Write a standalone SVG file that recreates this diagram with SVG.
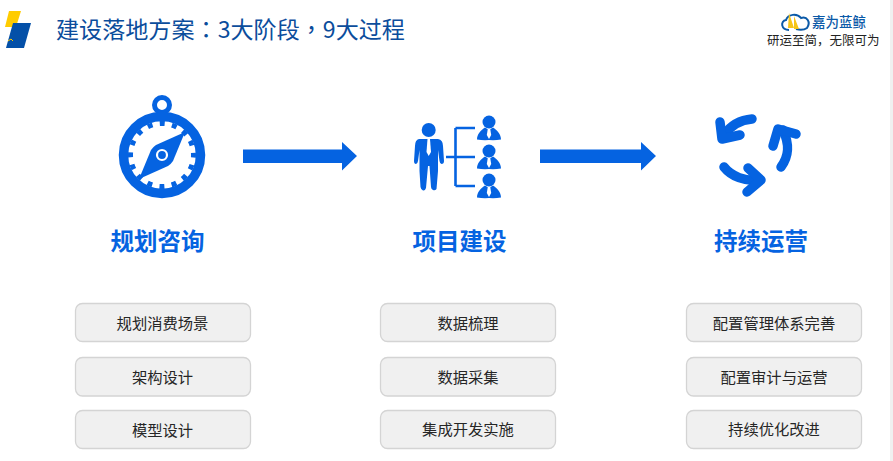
<svg xmlns="http://www.w3.org/2000/svg" width="893" height="461" viewBox="0 0 893 461">
<style>
text{font-family:"Liberation Sans","Noto Sans CJK SC",sans-serif}
.box rect{fill:#f0f0f0;stroke:#d4d4d4;stroke-width:1.3}
.box text{font-size:15.300px;fill:#262626;text-anchor:middle;font-family:"Noto Sans CJK SC",sans-serif}
.head{font-size:23.500px;font-weight:700;fill:#0563e1;text-anchor:middle;font-family:"Noto Sans CJK SC",sans-serif}
.ico{fill:#0563e1}
.ln{fill:none;stroke:#0563e1}
.arw{fill:none;stroke:#0563e1;stroke-width:9.500;stroke-linecap:round;stroke-linejoin:round}
.tc{font-family:"Noto Sans CJK TC",sans-serif}
</style>
<defs>
<g id="sub">
<circle cx="0" cy="0" r="6.500" class="ico"/>
<path d="M-12 17.500C-12 12-8 8-4 5.500L0 8 4 5.500C8 8 12 12 12 17.500Q6 18.500 0 18 -6 18.500-12 17.500Z" class="ico"/>
<path d="M-1.200 7H1.200L2.200 13 0 17-2.200 13Z" fill="#fff"/>
</g>
</defs>
<rect width="893" height="461" fill="#fff"/>
<rect x="890" y="0" width="3" height="461" fill="#f0f0f0"/>
<g id="logo-left">
<path d="M9 11H21L16 27H5Z" fill="#ffcc00"/>
<path d="M13 23H31L24 48H6Z" fill="#0450a8"/>
<path d="M8 41L11 39 13 41" fill="none" stroke="#ffcc00" stroke-width="1"/>
</g>
<text x="56" y="38" font-size="23.100" fill="#0b4d9c" style="font-family:'Noto Sans CJK SC',sans-serif">建设落地方案<tspan class="tc">：</tspan>3大阶段<tspan class="tc">，</tspan>9大过程</text>
<g id="logo-right">
<path d="M789 30C781 30 780 21 786 20 788 14 797 13 801 18 807 16 811 22 807 28 804 30 800 30 796 29" fill="none" stroke="#0b5aa8" stroke-width="2"/>
<path d="M789 13L794 28H788ZM794 16L799 29H794Z" fill="#f5c518"/>
<text x="812" y="26.500" font-size="13.500" font-weight="500" fill="#0b5aa8" style="font-family:'Noto Sans CJK SC',sans-serif">嘉为蓝鲸</text>
<text x="767" y="45" font-size="12.500" fill="#222" style="font-family:'Noto Sans CJK SC',sans-serif">研运至简，无限可为</text>
</g>
<g id="connectors">
<path d="M243 149.500H342V142L357 156 342 170.500V163H243Z" class="ico"/>
<path d="M540 149.500H641V142L656 156 641 170.500V163H540Z" class="ico"/>
</g>
<g id="node-plan">
<circle cx="162" cy="105" r="7.500" class="ln" stroke-width="5"/>
<circle cx="162" cy="155" r="38.500" class="ln" stroke-width="9.500"/>
<circle cx="162" cy="155" r="31.500" class="ln" stroke-width="5" stroke-dasharray="5 7.370" stroke-dashoffset="2.500"/>
<path d="M185 132L173 161Q171 164 168 166L139 179 151 150Q153 147 156 145Z" class="ico"/>
<circle cx="162" cy="155" r="5" fill="none" stroke="#fff" stroke-width="2.200"/>
<text x="157.500" y="250" class="head">规划咨询</text>
</g>
<g id="node-build">
<circle cx="428.700" cy="130" r="7" class="ico"/>
<path d="M419 139H438Q443 140 443 146L444 161Q444 164 441.500 164 440 164 439.500 161L438 150V171L436.500 189Q435 191 433 190 431 189 431 187L429.500 166H428L426 188Q425 191 423 190.500 421 190 420.500 187L419.500 171V150L418 161Q417.500 164 416 164 414 164 414 161L415 146Q415 140 419 139Z" class="ico"/>
<path d="M427.500 139H430L431 152 428.700 156 426.500 152Z" fill="#fff"/>
<path d="M446 157H475M455.500 128H475M455.500 186H475M455.500 128V186" class="ln" stroke-width="2.600"/>
<use href="#sub" x="489" y="122"/>
<use href="#sub" x="489" y="151"/>
<use href="#sub" x="489" y="180"/>
<text x="459.500" y="250" class="head">项目建设</text>
</g>
<g id="node-operate">
<path d="M752 119C740 120 731 125 724 135" class="arw"/>
<path d="M720 122L722 139 740 135" class="arw"/>
<path d="M781 167C789 156 790 145 783 130" class="arw"/>
<path d="M773 146L778 129 796 134" class="arw"/>
<path d="M724 167C731 176 745 182 760 180" class="arw"/>
<path d="M748 168L761 180 747 192" class="arw"/>
<text x="761" y="250" class="head">持续运营</text>
</g>
<g id="box-1" class="box"><rect x="75.500" y="303.500" width="175" height="38" rx="7"/><text x="162.500" y="329">规划消费场景</text></g>
<g id="box-2" class="box"><rect x="75.500" y="357.500" width="175" height="38.500" rx="7"/><text x="162.500" y="383">架构设计</text></g>
<g id="box-3" class="box"><rect x="75.500" y="410.500" width="175" height="38" rx="7"/><text x="162.500" y="436">模型设计</text></g>
<g id="box-4" class="box"><rect x="380.500" y="303.500" width="175" height="38" rx="7"/><text x="468" y="329">数据梳理</text></g>
<g id="box-5" class="box"><rect x="380.500" y="357.500" width="175" height="38.500" rx="7"/><text x="468" y="383">数据采集</text></g>
<g id="box-6" class="box"><rect x="380.500" y="410.500" width="175" height="38" rx="7"/><text x="468" y="435">集成开发实施</text></g>
<g id="box-7" class="box"><rect x="686.500" y="303.500" width="175" height="38" rx="7"/><text x="774" y="329">配置管理体系完善</text></g>
<g id="box-8" class="box"><rect x="686.500" y="357.500" width="175" height="38.500" rx="7"/><text x="774" y="383">配置审计与运营</text></g>
<g id="box-9" class="box"><rect x="686.500" y="410.500" width="175" height="38" rx="7"/><text x="774" y="435">持续优化改进</text></g>
</svg>
